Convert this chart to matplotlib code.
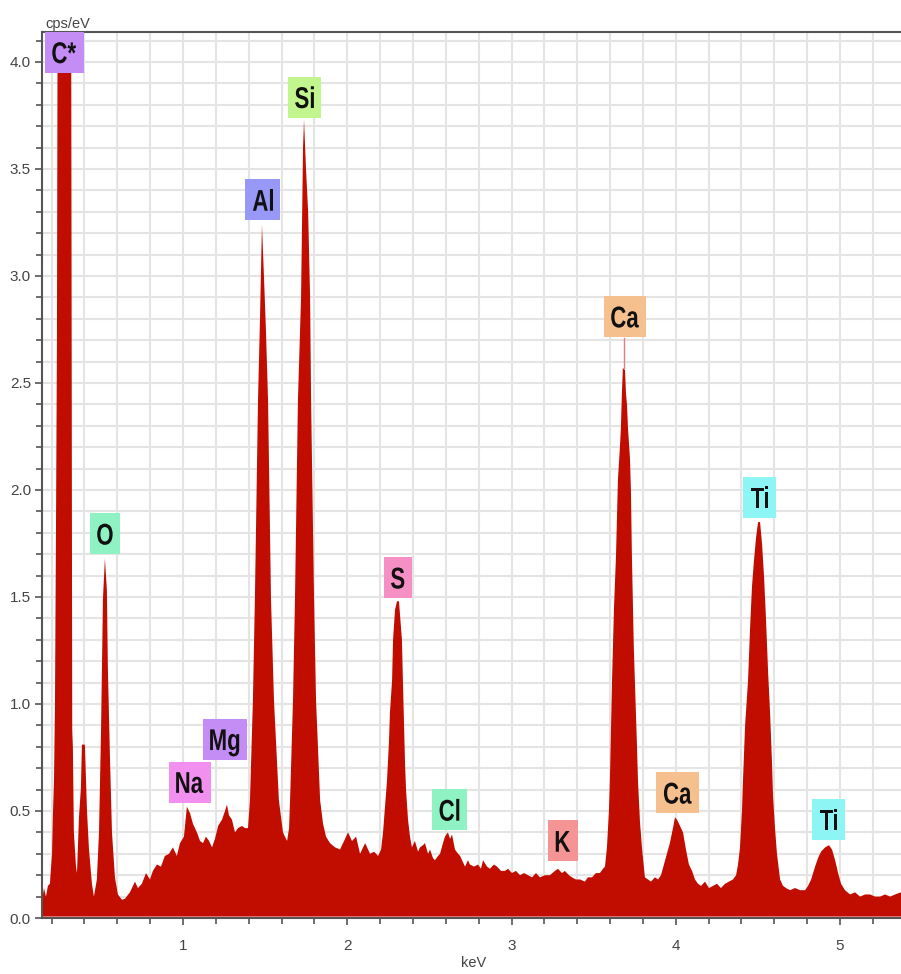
import matplotlib
matplotlib.use("Agg")
import matplotlib.pyplot as plt
import matplotlib.transforms as mtransforms
from matplotlib.ticker import MultipleLocator
from matplotlib.textpath import TextPath
from matplotlib.patches import PathPatch, Rectangle
from matplotlib.font_manager import FontProperties

# spectrum (keV, cps/eV); C* peak runs off the top
kev = [0.142, 0.154, 0.166, 0.178, 0.190, 0.203, 0.209, 0.215, 0.221, 0.227,
       0.233, 0.239, 0.318, 0.322, 0.326, 0.330, 0.336, 0.349, 0.355, 0.367,
       0.379, 0.385, 0.403, 0.416, 0.428, 0.446, 0.458, 0.476, 0.489, 0.501,
       0.507, 0.513, 0.525, 0.537, 0.543, 0.556, 0.568, 0.586, 0.604, 0.629,
       0.647, 0.677, 0.708, 0.726, 0.750, 0.775, 0.799, 0.817, 0.842, 0.866,
       0.890, 0.915, 0.939, 0.963, 0.982, 1.006, 1.024, 1.043, 1.061, 1.085,
       1.104, 1.122, 1.140, 1.159, 1.177, 1.195, 1.214, 1.238, 1.256, 1.268,
       1.280, 1.298, 1.317, 1.335, 1.359, 1.378, 1.396, 1.408, 1.426, 1.438,
       1.457, 1.469, 1.481, 1.493, 1.505, 1.518, 1.536, 1.554, 1.584, 1.609,
       1.621, 1.634, 1.646, 1.652, 1.670, 1.682, 1.700, 1.719, 1.731, 1.737,
       1.749, 1.762, 1.774, 1.780, 1.798, 1.810, 1.835, 1.853, 1.871,
       1.895, 1.926, 1.956, 1.987, 2.005, 2.029, 2.054, 2.078, 2.109, 2.139,
       2.163, 2.188, 2.206, 2.218, 2.230, 2.242, 2.254, 2.260, 2.273, 2.279,
       2.291, 2.303, 2.315, 2.321, 2.333, 2.339, 2.352, 2.358, 2.370, 2.382,
       2.394, 2.412, 2.431, 2.443, 2.461, 2.473, 2.492, 2.504, 2.522, 2.534,
       2.553, 2.565, 2.583, 2.595, 2.613, 2.626, 2.638, 2.656, 2.675, 2.687,
       2.705, 2.717, 2.735, 2.747, 2.772, 2.796, 2.814, 2.827, 2.851, 2.869,
       2.893, 2.912, 2.936, 2.960, 2.979, 3.003, 3.027, 3.052, 3.076, 3.100,
       3.125, 3.149, 3.173, 3.204, 3.234, 3.264, 3.283, 3.307, 3.325, 3.350,
       3.368, 3.392, 3.417, 3.447, 3.465, 3.490, 3.514, 3.538, 3.557, 3.569,
       3.581, 3.593, 3.599, 3.612, 3.624, 3.636, 3.648, 3.660, 3.666, 3.672,
       3.678, 3.691, 3.697, 3.703, 3.709, 3.721, 3.727, 3.733, 3.745, 3.751,
       3.764, 3.770, 3.782, 3.794, 3.812, 3.831, 3.849, 3.873, 3.892, 3.910,
       3.928, 3.946, 3.964, 3.983, 3.995, 4.007, 4.026, 4.044, 4.062, 4.080,
       4.099, 4.117, 4.135, 4.154, 4.178, 4.202, 4.227, 4.251, 4.275, 4.300,
       4.324, 4.348, 4.367, 4.379, 4.391, 4.403, 4.409, 4.422, 4.440, 4.452,
       4.464, 4.476, 4.489, 4.501, 4.513, 4.525, 4.537, 4.549, 4.562, 4.574,
       4.586, 4.592, 4.604, 4.616, 4.635, 4.653, 4.671, 4.696, 4.726, 4.757,
       4.787, 4.805, 4.824, 4.848, 4.866, 4.884, 4.909, 4.933, 4.951, 4.970,
       4.988, 5.006, 5.030, 5.061, 5.091, 5.122, 5.152, 5.183, 5.213, 5.244,
       5.274, 5.305, 5.335, 5.371]
cps = [0.08, 0.14, 0.10, 0.15, 0.16, 0.30, 0.50, 0.64, 1.00, 1.80,
       2.70, 5.00, 5.00, 3.00, 0.88, 0.80, 0.40, 0.24, 0.21, 0.47,
       0.61, 0.81, 0.81, 0.50, 0.32, 0.16, 0.10, 0.18, 0.40, 0.86,
       1.17, 1.49, 1.68, 1.53, 1.17, 0.74, 0.40, 0.19, 0.11, 0.085,
       0.09, 0.12, 0.17, 0.14, 0.16, 0.21, 0.18, 0.22, 0.25, 0.24,
       0.29, 0.30, 0.33, 0.29, 0.35, 0.38, 0.52, 0.49, 0.44, 0.40,
       0.36, 0.35, 0.38, 0.36, 0.33, 0.37, 0.43, 0.46, 0.50, 0.53,
       0.48, 0.46, 0.40, 0.42, 0.43, 0.42, 0.42, 0.55, 1.02, 1.49,
       2.42, 2.80, 3.24, 3.00, 2.75, 2.42, 1.49, 1.02, 0.55, 0.40,
       0.38, 0.36, 0.42, 0.55, 1.02, 1.49, 2.42, 2.90, 3.60, 3.73,
       3.50, 3.30, 2.90, 2.42, 1.49, 1.02, 0.55, 0.44, 0.38,
       0.35, 0.33, 0.32, 0.37, 0.40, 0.36, 0.38, 0.30, 0.35, 0.30,
       0.31, 0.29, 0.32, 0.40, 0.52, 0.64, 0.82, 0.96, 1.11, 1.30,
       1.44, 1.48, 1.48, 1.42, 1.30, 1.11, 0.72, 0.60, 0.46, 0.38,
       0.33, 0.36, 0.31, 0.33, 0.34, 0.35, 0.30, 0.32, 0.28, 0.27,
       0.29, 0.30, 0.35, 0.38, 0.40, 0.37, 0.39, 0.32, 0.30, 0.29,
       0.26, 0.24, 0.27, 0.25, 0.24, 0.25, 0.23, 0.27, 0.24, 0.23,
       0.25, 0.24, 0.22, 0.22, 0.23, 0.21, 0.22, 0.20, 0.21, 0.20,
       0.19, 0.21, 0.19, 0.20, 0.20, 0.22, 0.23, 0.21, 0.22, 0.20,
       0.19, 0.18, 0.18, 0.17, 0.19, 0.19, 0.21, 0.21, 0.23, 0.24,
       0.33, 0.50, 0.64, 1.11, 1.45, 1.69, 2.05, 2.20, 2.29, 2.45,
       2.57, 2.56, 2.45, 2.40, 2.29, 2.15, 2.00, 1.69, 1.25, 1.11,
       0.80, 0.64, 0.45, 0.33, 0.19, 0.18, 0.17, 0.19, 0.18, 0.20,
       0.25, 0.30, 0.35, 0.42, 0.47, 0.46, 0.43, 0.40, 0.32, 0.25,
       0.22, 0.18, 0.16, 0.15, 0.17, 0.14, 0.15, 0.16, 0.14, 0.16,
       0.17, 0.18, 0.20, 0.25, 0.33, 0.50, 0.64, 0.90, 1.11, 1.35,
       1.55, 1.67, 1.78, 1.85, 1.85, 1.75, 1.60, 1.40, 1.15, 0.96,
       0.72, 0.57, 0.42, 0.30, 0.18, 0.15, 0.14, 0.13, 0.14, 0.13,
       0.13, 0.15, 0.18, 0.24, 0.28, 0.31, 0.33, 0.34, 0.32, 0.27,
       0.21, 0.16, 0.13, 0.11, 0.12, 0.10, 0.11, 0.11, 0.10, 0.10,
       0.11, 0.10, 0.11, 0.12]

# element markers
elements = ["C*", "O", "Na", "Mg", "Al", "Si", "S", "Cl", "K", "Ca", "Ca", "Ti", "Ti"]
elem_kev = [0.277, 0.525, 1.041, 1.254, 1.487, 1.740, 2.307, 2.622, 3.313, 3.691, 4.012, 4.510, 4.931]
elem_colors = ["#c48cf5", "#8ef2c2", "#f290f0", "#c48cf5", "#9898f6", "#c2f58e",
               "#f58fc4", "#8ef2c2", "#f59494", "#f5c08e", "#f5c08e", "#8ef5f5", "#8ef5f5"]
label_y = [4.045, 1.795, 0.635, 0.835, 3.355, 3.835, 1.59, 0.505, 0.36, 2.81, 0.585, 1.965, 0.46]

red = "#c10c00"
axcol = "#555555"
txtcol = "#444444"
plt.rcParams["font.family"] = ["Liberation Sans", "DejaVu Sans"]

fig = plt.figure(figsize=(9.01, 9.74), dpi=100)
ax = fig.add_axes([42 / 901, 1 - 918 / 974, 859 / 901, 886 / 974])

ax.fill_between(kev, cps, 0, color=red, lw=0, zorder=3)
ax.axhline(0.004, color="#f28a8a", lw=1.2, zorder=4)

ax.set_xlim(0.142, 5.371)
ax.set_ylim(0, 4.14)

ax.xaxis.set_major_locator(MultipleLocator(1))
ax.xaxis.set_minor_locator(MultipleLocator(0.2))
ax.yaxis.set_major_locator(MultipleLocator(0.5))
ax.yaxis.set_minor_locator(MultipleLocator(0.1))
ax.grid(which="both", color="#e4e4e4", lw=1.5, zorder=0)
ax.set_axisbelow(True)

ax.tick_params(which="both", direction="out", color=axcol, width=1.2)
ax.tick_params(which="major", length=5)
ax.tick_params(which="minor", length=4)
ax.tick_params(axis="y", labelsize=11, labelcolor=txtcol, pad=3)
ax.tick_params(axis="x", labelsize=11, labelcolor=txtcol, pad=10)
ax.yaxis.set_major_formatter(lambda v, p: f"{v:.1f}")

for s in ["left", "bottom", "top"]:
    ax.spines[s].set_color(axcol)
    ax.spines[s].set_linewidth(1.5)
    ax.spines[s].set_zorder(5)
ax.spines["right"].set_visible(False)

# labels: tall, narrow lettering in a coloured box (sizes in pixels)
fp = FontProperties(family="Liberation Sans", weight="bold")
cap_px, squeeze, padx, box_h = 21.5, 0.74, 7.5, 41
k = cap_px / 0.716
for name, ex, ey, col in zip(elements, elem_kev, label_y, elem_colors):
    tp = TextPath((0, 0), name, size=1, prop=fp)
    e = tp.get_extents()
    w = e.width * k * squeeze
    anchor = mtransforms.ScaledTranslation(ex, ey, ax.transData)
    ax.add_patch(Rectangle((-w / 2 - padx, -box_h / 2), w + 2 * padx, box_h,
                           fc=col, ec="none", zorder=6,
                           transform=mtransforms.Affine2D() + anchor))
    tr = (mtransforms.Affine2D().translate(-(e.x0 + e.width / 2), -0.716 / 2)
          .scale(k * squeeze, k) + anchor)
    ax.add_patch(PathPatch(tp, fc="#111111", ec="none", zorder=7, transform=tr))

# marker line from the big Ca peak up to its label
ax.plot([3.685, 3.685], [2.57, 2.71], color="#e08080", lw=1, zorder=4)

fig.text(45 / 901, 1 - 28 / 974, "cps/eV", fontsize=10.5, color=txtcol, va="baseline")
fig.text(474 / 901, 1 - 963 / 974, "keV", fontsize=10.5, color=txtcol, ha="center", va="center")

fig.savefig("out.png", dpi=100)
